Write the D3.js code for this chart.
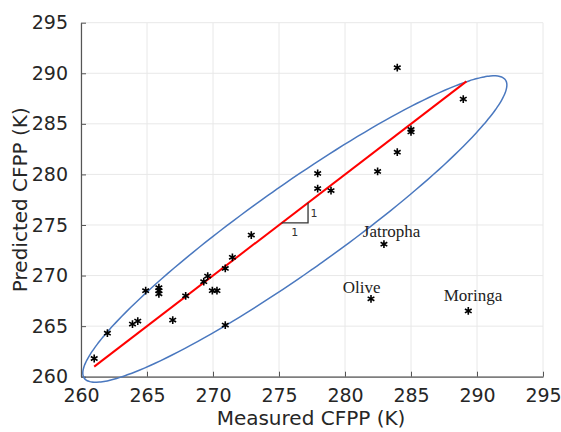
<!DOCTYPE html>
<html>
<head>
<meta charset="utf-8">
<script src="https://cdn.jsdelivr.net/npm/d3@7"></script>
<style>
  html, body { margin: 0; padding: 0; background: #fff; }
  svg { display: block; }
</style>
</head>
<body>
<svg id="chart" width="561" height="432"></svg>
<script>
// ---- data ----
const measured  = [261.0, 262.0, 263.9, 264.3, 264.9, 265.9, 265.9, 265.9, 266.95, 267.93,
                   269.3, 269.6, 269.95, 270.3, 270.93, 271.47, 270.93, 272.9, 277.93, 277.93,
                   278.94, 282.47, 283.96, 285.0, 285.0, 283.96, 288.96];
const predicted = [261.8, 264.3, 265.2, 265.5, 268.5, 268.8, 268.5, 268.2, 265.6, 268.0,
                   269.4, 269.95, 268.5, 268.5, 270.7, 271.8, 265.1, 274.0, 280.1, 278.6,
                   278.4, 280.3, 282.2, 284.45, 284.2, 290.55, 287.45];
const outlierNames     = ["Jatropha", "Olive", "Moringa"];
const outlierMeasured  = [282.95, 281.97, 289.34];
const outlierPredicted = [273.1, 267.7, 266.5];
const fitMeasured  = [261.0, 289.2];
const fitPredicted = [261.0, 289.2];
const xTicks = [260, 265, 270, 275, 280, 285, 290, 295];
const yTicks = [260, 265, 270, 275, 280, 285, 290, 295];
// confidence ellipse (data units): centre, two conjugate semi-axis vectors
const ellipseCenter = [276.2, 274.6];
const ellipseU = [15.95, 14.75];
const ellipseV = [1.9, -3.45];
// slope triangle (data units)
const triX = [275.2, 277.2];
const triY = [275.2, 277.2];

// ---- layout ----
const svg = d3.select("#chart");
const L = 81, R = 543, T = 22.7, B = 376.7;
const x = d3.scaleLinear().domain([260, 295]).range([L, R]);
const y = d3.scaleLinear().domain([260, 295]).range([B, T]);
const tickFont = "'DejaVu Sans', sans-serif";
const textCol = "#262626";

// grid
const g = svg.append("g");
g.selectAll(".gx").data(xTicks).join("line")
  .attr("x1", d => x(d)).attr("x2", d => x(d)).attr("y1", T).attr("y2", B)
  .attr("stroke", "#e8e8e8").attr("stroke-width", 1);
g.selectAll(".gy").data(yTicks).join("line")
  .attr("y1", d => y(d)).attr("y2", d => y(d)).attr("x1", L).attr("x2", R)
  .attr("stroke", "#e8e8e8").attr("stroke-width", 1);

// axes
const xAxis = d3.axisBottom(x).tickValues(xTicks).tickSizeInner(-5).tickSizeOuter(0).tickPadding(12);
const yAxis = d3.axisLeft(y).tickValues(yTicks).tickSizeInner(-5).tickSizeOuter(0).tickPadding(13);
const gx = svg.append("g").attr("transform", `translate(0,${B})`).call(xAxis);
const gy = svg.append("g").attr("transform", `translate(${L},0)`).call(yAxis);
[gx, gy].forEach(a => {
  a.select(".domain").attr("stroke", "#555").attr("stroke-width", 1.2);
  a.selectAll(".tick line").attr("stroke", "#555");
  a.selectAll(".tick text").attr("font-family", tickFont).attr("font-size", 19).attr("fill", textCol);
});
gx.selectAll(".tick text").attr("dy", "0.71em");

// axis labels
svg.append("text").attr("x", (L + R) / 2 - 1).attr("y", 425)
  .attr("text-anchor", "middle").attr("font-family", tickFont).attr("font-size", 20)
  .attr("fill", textCol).text("Measured CFPP (K)");
svg.append("text").attr("transform", `translate(27,${(T + B) / 2}) rotate(-90)`)
  .attr("text-anchor", "middle").attr("font-family", tickFont).attr("font-size", 20)
  .attr("fill", textCol).text("Predicted CFPP (K)");

// ellipse
const ts = d3.range(0, 361, 2).map(d => d * Math.PI / 180);
const ellPts = ts.map(t => [
  ellipseCenter[0] + ellipseU[0] * Math.cos(t) + ellipseV[0] * Math.sin(t),
  ellipseCenter[1] + ellipseU[1] * Math.cos(t) + ellipseV[1] * Math.sin(t)
]);
svg.append("path")
  .attr("d", d3.line().x(d => x(d[0])).y(d => y(d[1])).curve(d3.curveCardinalClosed)(ellPts.slice(0, -1)))
  .attr("fill", "none").attr("stroke", "#4a78bf").attr("stroke-width", 1.5);

// fit line
svg.append("path")
  .attr("d", d3.line().x(d => x(d[0])).y(d => y(d[1]))(fitMeasured.map((m, i) => [m, fitPredicted[i]])))
  .attr("stroke", "#ff0000").attr("stroke-width", 2).attr("fill", "none");

// slope triangle
svg.append("path")
  .attr("d", d3.line().x(d => x(d[0])).y(d => y(d[1]))([[triX[0], triY[0]], [triX[1], triY[0]], [triX[1], triY[1]]]))
  .attr("fill", "none").attr("stroke", "#333").attr("stroke-width", 1.3);
svg.append("text").attr("x", (x(triX[0]) + x(triX[1])) / 2).attr("y", y(triY[0]) + 13)
  .attr("text-anchor", "middle").attr("font-family", tickFont).attr("font-size", 11).attr("fill", "#333").text("1");
svg.append("text").attr("x", x(triX[1]) + 6).attr("y", (y(triY[0]) + y(triY[1])) / 2 + 4)
  .attr("text-anchor", "middle").attr("font-family", tickFont).attr("font-size", 11).attr("fill", "#333").text("1");

// markers
const star = d3.symbol().type(d3.symbolAsterisk).size(42);
const allM = measured.concat(outlierMeasured);
const allP = predicted.concat(outlierPredicted);
svg.append("g").selectAll("path").data(allM.map((m, i) => [m, allP[i]])).join("path")
  .attr("transform", d => `translate(${x(d[0])},${y(d[1])})`)
  .attr("d", star).attr("fill", "none").attr("stroke", "#000").attr("stroke-width", 1.6);

// outlier labels
const labelDx = [7.7, -9.3, 4.7];
const labelDy = [-7, -6, -10];
svg.append("g").selectAll("text").data(outlierNames).join("text")
  .attr("x", (d, i) => x(outlierMeasured[i]) + labelDx[i])
  .attr("y", (d, i) => y(outlierPredicted[i]) + labelDy[i])
  .attr("text-anchor", "middle").attr("font-family", "'Liberation Serif', serif")
  .attr("font-size", 17).attr("fill", "#222").text(d => d);
</script>
</body>
</html>
